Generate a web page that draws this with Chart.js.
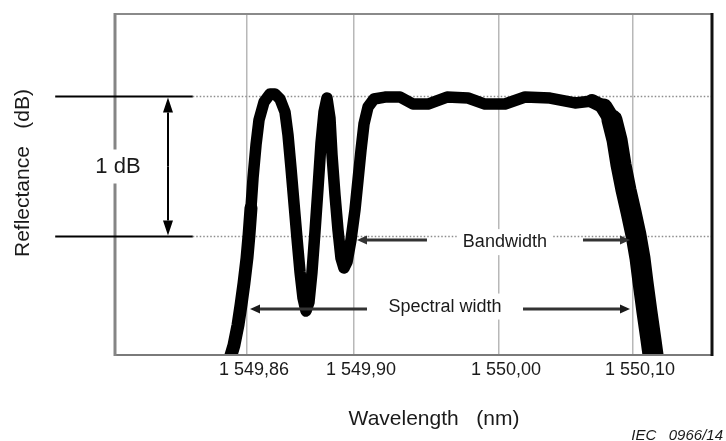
<!DOCTYPE html>
<html>
<head>
<meta charset="utf-8">
<script src="https://cdn.jsdelivr.net/npm/chart.js@4.4.1/dist/chart.umd.min.js"></script>
<style>
  html, body { margin: 0; padding: 0; background: #fff; }
  #wrap { width: 726px; height: 441px; position: relative; }
  canvas { display: block; }
</style>
</head>
<body>
<div id="wrap"><canvas id="c" width="726" height="441"></canvas></div>
<script>
// ---------- data (x in axis units 0..100 across the plot, y in dB relative to peak) ----------
const xUnits = [19.06, 19.90, 20.57, 21.07, 21.57, 22.07, 22.41, 22.74, 23.08, 23.58, 24.08, 24.92, 25.92, 26.76, 27.59,
  28.43, 28.93, 29.43, 29.93, 30.43, 30.94, 31.44, 31.94, 32.44, 32.94, 33.44, 33.95, 34.45, 34.95, 35.45,
  35.95, 36.29, 36.79, 37.29, 37.79, 38.29, 38.80, 39.46, 40.13, 40.64, 41.14, 41.64, 42.31, 43.31, 45.15,
  47.66, 49.83, 52.34, 55.52, 59.03, 61.87, 65.22, 68.56, 72.74, 76.92, 79.77, 81.77, 83.11, 83.95, 84.62,
  85.45, 86.29, 87.12, 87.79, 88.29, 88.96, 89.63, 90.13];
const reflectanceDb = [-1.896, -1.775, -1.632, -1.489, -1.332, -1.154, -0.989, -0.796, -0.582, -0.346, -0.168, -0.039, 0.018, 0.018, -0.018,
  -0.111, -0.275, -0.511, -0.761, -1.011, -1.254, -1.439, -1.532, -1.468, -1.254, -0.968, -0.654, -0.332, -0.111, -0.011,
  -0.154, -0.418, -0.704, -0.954, -1.154, -1.225, -1.182, -1.025, -0.811, -0.596, -0.382, -0.196, -0.075, -0.018, -0.004,
  -0.004, -0.054, -0.054, -0.004, -0.011, -0.054, -0.054, -0.004, -0.011, -0.046, -0.032, -0.075, -0.168, -0.311, -0.489,
  -0.668, -0.825, -0.989, -1.154, -1.325, -1.539, -1.739, -1.896];

const tickPositions = [22.07, 39.97, 64.21, 86.62];
const tickLabels = ['1 549,86', '1 549,90', '1 550,00', '1 550,10'];

const refLevels = [0, -1];              // dB levels of the reference lines
const refStub = [-10.0, 13.0];          // x-extent of the solid reference stubs
const oneDb = { x: 8.86, top: 0, bottom: -1, labelX: 0.5, labelY: -0.5, text: '1 dB' };
const bandwidth = { y: -1.025, labelY: -1.04, leftTip: 40.47, leftTail: 52.17, rightTail: 78.26, rightTip: 86.12, labelX: 65.2, text: 'Bandwidth' };
const spectral = { y: -1.518, labelY: -1.50, leftTip: 22.58, leftTail: 42.14, rightTail: 68.23, rightTip: 86.12, labelX: 55.18, text: 'Spectral width' };

const xTitle = 'Wavelength   (nm)';
const yTitle = 'Reflectance   (dB)';
const figId = 'IEC   0966/14';

// ---------- chart ----------
const FONT = '"Liberation Sans", Arial, Helvetica, sans-serif';
const points = xUnits.map((x, i) => ({ x, y: reflectanceDb[i] }));

function arrow(ctx, x1, y1, x2, y2, len, half) {
  const ang = Math.atan2(y2 - y1, x2 - x1);
  const bx = x2 - Math.cos(ang) * len, by = y2 - Math.sin(ang) * len;
  ctx.beginPath(); ctx.moveTo(x1, y1); ctx.lineTo(bx, by); ctx.stroke();
  ctx.beginPath();
  ctx.moveTo(x2, y2);
  ctx.lineTo(bx + Math.sin(ang) * half, by - Math.cos(ang) * half);
  ctx.lineTo(bx - Math.sin(ang) * half, by + Math.cos(ang) * half);
  ctx.closePath(); ctx.fill();
}

function labelWithBg(ctx, text, cx, cy, font, padX, padY) {
  ctx.font = font;
  const w = ctx.measureText(text).width;
  ctx.fillStyle = '#fff';
  ctx.fillRect(cx - w / 2 - padX, cy - padY, w + 2 * padX, 2 * padY);
  ctx.fillStyle = '#1a1a1a';
  ctx.textAlign = 'center'; ctx.textBaseline = 'middle';
  ctx.fillText(text, cx, cy);
}

const decor = {
  id: 'decor',
  beforeDatasetsDraw(chart) {
    const { ctx, chartArea: a, scales: { x, y } } = chart;
    ctx.save();
    ctx.strokeStyle = '#8c8c8c'; ctx.lineWidth = 1.5; ctx.setLineDash([1.5, 2]);
    refLevels.forEach(v => {
      const py = y.getPixelForValue(v);
      ctx.beginPath(); ctx.moveTo(x.getPixelForValue(refStub[1]), py); ctx.lineTo(a.right, py); ctx.stroke();
    });
    ctx.restore();
  },
  afterDatasetsDraw(chart) {
    const { ctx, chartArea: a, scales: { x, y } } = chart;
    ctx.save();
    // plot frame
    ctx.lineCap = 'butt';
    ctx.strokeStyle = '#8a8a8a'; ctx.lineWidth = 2;
    ctx.beginPath(); ctx.moveTo(a.left, a.top); ctx.lineTo(a.right, a.top); ctx.stroke();
    ctx.strokeStyle = '#7a7a7a';
    ctx.beginPath(); ctx.moveTo(a.left, a.bottom); ctx.lineTo(a.right, a.bottom); ctx.stroke();
    ctx.lineWidth = 3; ctx.strokeStyle = '#858585';
    ctx.beginPath(); ctx.moveTo(a.left, a.top - 1); ctx.lineTo(a.left, a.bottom + 1); ctx.stroke();
    ctx.strokeStyle = '#111';
    ctx.beginPath(); ctx.moveTo(a.right - 1, a.top - 1); ctx.lineTo(a.right - 1, a.bottom + 1); ctx.stroke();

    // solid reference stubs
    ctx.strokeStyle = '#000'; ctx.lineWidth = 2;
    refLevels.forEach(v => {
      const py = y.getPixelForValue(v);
      ctx.beginPath(); ctx.moveTo(x.getPixelForValue(refStub[0]), py); ctx.lineTo(x.getPixelForValue(refStub[1]), py); ctx.stroke();
    });

    // 1 dB double arrow
    ctx.fillStyle = '#000'; ctx.strokeStyle = '#000'; ctx.lineWidth = 2;
    const ax = x.getPixelForValue(oneDb.x);
    const yt = y.getPixelForValue(oneDb.top), yb = y.getPixelForValue(oneDb.bottom);
    const ym = (yt + yb) / 2;
    arrow(ctx, ax, ym, ax, yt + 1, 15, 5);
    arrow(ctx, ax, ym, ax, yb - 1, 15, 5);
    labelWithBg(ctx, oneDb.text, x.getPixelForValue(oneDb.labelX), y.getPixelForValue(oneDb.labelY), '22px ' + FONT, 4, 17);

    // bandwidth & spectral width arrows
    ctx.fillStyle = '#333'; ctx.strokeStyle = '#333'; ctx.lineWidth = 3;
    [bandwidth, spectral].forEach(d => {
      const py = y.getPixelForValue(d.y);
      arrow(ctx, x.getPixelForValue(d.leftTail), py, x.getPixelForValue(d.leftTip), py, 10, 4.5);
      arrow(ctx, x.getPixelForValue(d.rightTail), py, x.getPixelForValue(d.rightTip), py, 10, 4.5);
      labelWithBg(ctx, d.text, x.getPixelForValue(d.labelX), y.getPixelForValue(d.labelY), '18px ' + FONT, 6, 13);
    });

    // axis titles
    ctx.fillStyle = '#1a1a1a';
    ctx.font = '21px ' + FONT;
    ctx.textAlign = 'center'; ctx.textBaseline = 'alphabetic';
    ctx.fillText(xTitle, 434, 425);
    ctx.save();
    ctx.translate(23, 173);
    ctx.rotate(-Math.PI / 2);
    ctx.textBaseline = 'middle';
    ctx.fillText(yTitle, 0, 0);
    ctx.restore();

    // figure id
    ctx.font = 'italic 15px ' + FONT;
    ctx.textAlign = 'right'; ctx.textBaseline = 'alphabetic';
    ctx.fillText(figId, 723, 440);
    ctx.restore();
  }
};

new Chart(document.getElementById('c'), {
  type: 'line',
  data: {
    datasets: [{
      data: points,
      borderColor: '#000',
      borderWidth: 12,
      borderCapStyle: 'round',
      borderJoinStyle: 'round',
      pointRadius: 0,
      tension: 0,
      fill: false,
      clip: 0,
      segment: {
        borderWidth: c => {
          const xv = c.p0.parsed.x;
          if (xv < 22.5) return 13;
          if (xv < 79) return 11.5;
          if (xv < 81) return 14;
          if (xv < 83) return 17;
          return 21;
        }
      }
    }]
  },
  options: {
    responsive: false,
    devicePixelRatio: 1,
    animation: false,
    events: [],
    layout: { padding: { left: 115, right: 13, top: 14, bottom: 0 } },
    plugins: { legend: { display: false }, tooltip: { enabled: false } },
    scales: {
      x: {
        type: 'linear',
        min: 0, max: 100,
        afterFit: s => { s.height = 86; },
        afterBuildTicks: s => { s.ticks = tickPositions.map(v => ({ value: v })); },
        border: { display: false },
        grid: { color: '#b8b8b8', lineWidth: 1.5, drawTicks: false },
        ticks: {
          autoSkip: false,
          maxRotation: 0,
          padding: 4,
          labelOffset: 7,
          color: '#1a1a1a',
          font: { family: FONT, size: 18 },
          callback: (v, i) => tickLabels[i]
        }
      },
      y: {
        display: false,
        min: -1.846, max: 0.589
      }
    }
  },
  plugins: [decor]
});
</script>
</body>
</html>
